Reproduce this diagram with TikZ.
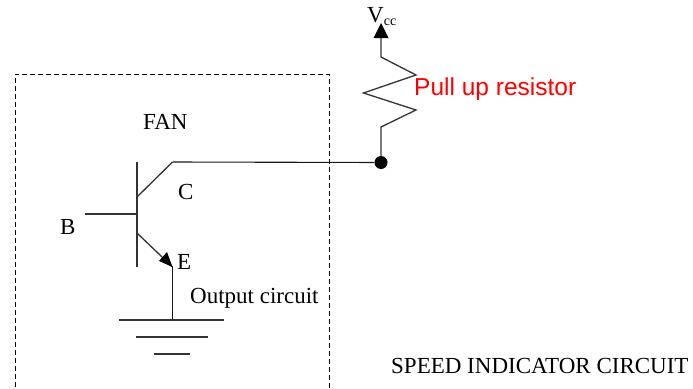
\documentclass[tikz,border=0pt]{standalone}
\usepackage{fontspec}
\setmainfont{Liberation Serif}
\newfontfamily\sansf{Liberation Sans}
\begin{document}
\begin{tikzpicture}[x=1pt,y=-1pt,
  wire/.style={draw=black!80,line width=1.3pt},
  thin wire/.style={draw=black!90,line width=1.1pt},
  lbl/.style={inner sep=0pt,font=\fontsize{23}{25}\selectfont,text=black},
  dot/.style={circle,fill=black,draw=none,inner sep=0pt,minimum size=13pt},
  tipc/.style={fill=black,draw=none}]
\useasboundingbox (0,0) rectangle (693,388);
\draw[dash pattern=on 5pt off 3pt,line width=0.8pt] (329,388) -- (329,74) -- (15,74) -- (15,388);
\node[dot] (j) at (381,162.5) {};
\coordinate (c1) at (172.5,162);
\coordinate (vt) at (381,37);
\coordinate (r0) at (381,127);
\draw[thin wire] (c1) -- (j);
\draw[wire] (137,162) -- (137,267);
\draw[wire] (137,197) -- (c1);
\draw[wire] (85,214) -- (137,214);
\draw[wire] (137,233) -- (172.5,267);
\draw[thin wire] (172.5,267) -- (172.5,320);
\fill[tipc] (172.5,267) -- (159,261) -- (167,252) -- cycle;
\draw[wire] (j) -- (r0) -- (416,110) -- (363.5,93) -- (416,75) -- (381,57) -- (vt);
\fill[tipc] (381,23) -- (373.5,38) -- (388.5,38) -- cycle;
\draw[wire] (119,320) -- (224,320);
\draw[wire] (136,337) -- (208,337);
\draw[wire] (154,354) -- (190,354);
\node[lbl,anchor=west] (vcc) at (367,17) {V\raisebox{-3pt}{\fontsize{14}{14}\selectfont cc}};
\node[anchor=west,inner sep=0pt,text=red,font=\sansf\fontsize{24.5}{27}\selectfont] (pu) at (414,89) {Pull up resistor};
\node[lbl,anchor=west] (fan) at (143,122) {FAN};
\node[lbl,anchor=west] (cl) at (178,192) {C};
\node[lbl,anchor=west] (bl) at (60,227) {B};
\node[lbl,anchor=west] (el) at (177,262) {E};
\node[lbl,anchor=west] (oc) at (190,298) {Output circuit};
\node[lbl,anchor=west] (sp) at (391,366) {SPEED INDICATOR CIRCUIT};
\end{tikzpicture}
\end{document}
